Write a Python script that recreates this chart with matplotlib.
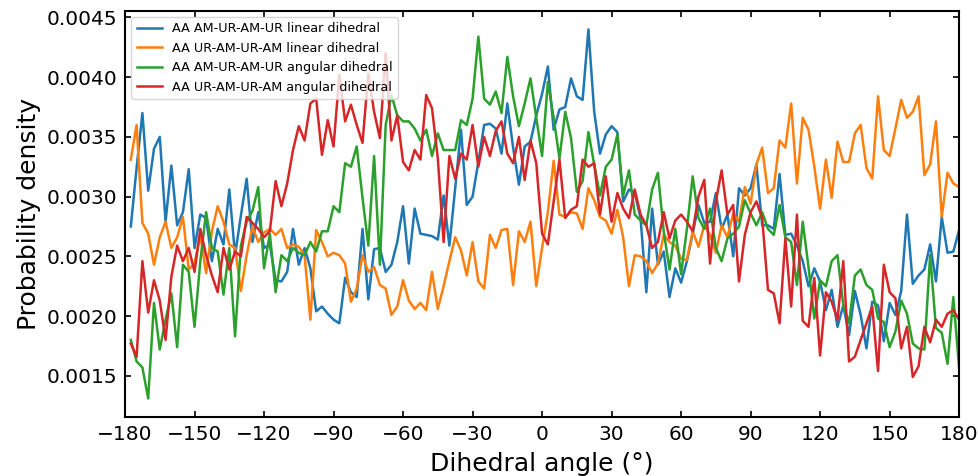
import numpy as np
import matplotlib.pyplot as plt

# bin right edges, 2.5 degree bins over the full dihedral range
angle = np.arange(-177.5, 180.1, 2.5)

# probability densities, in units of 1e-4
am_ur_linear = [
    27.5, 32.4, 37.0, 30.5, 34.0, 35.0, 27.9, 32.6, 27.6, 28.7, 32.3, 25.7,
    28.5, 28.2, 24.6, 27.3, 26.0, 30.6, 25.1, 28.4, 31.5, 26.2, 28.7, 25.7,
    26.0, 23.0, 22.9, 23.7, 27.3, 24.3, 25.7, 24.0, 20.4, 20.8, 20.2, 19.7,
    19.4, 23.2, 22.0, 21.6, 27.3, 21.4, 25.6, 25.7, 23.7, 24.3, 26.2, 29.2,
    24.4, 29.0, 26.9, 26.8, 26.7, 26.4, 30.1, 25.9, 30.7, 35.6, 29.3, 30.0,
    32.9, 36.0, 36.1, 35.7, 33.6, 37.8, 34.1, 31.0, 34.2, 34.6, 36.8, 38.6,
    40.9, 35.6, 37.3, 37.5, 39.9, 38.4, 38.1, 44.0, 37.1, 33.6, 35.2, 35.9,
    35.4, 29.6, 30.6, 30.3, 28.2, 22.0, 29.0, 24.3, 25.4, 21.6, 24.0, 22.8,
    24.6, 26.9, 29.3, 27.8, 27.9, 30.3, 27.3, 28.5, 25.0, 30.7, 30.1, 30.7,
    32.7, 27.6, 27.6, 27.3, 31.9, 26.8, 26.9, 25.9, 24.6, 22.5, 24.0, 22.9,
    20.5, 22.2, 19.1, 20.9, 18.4, 22.1, 20.1, 17.3, 21.2, 20.9, 17.9, 21.1,
    20.1, 22.1, 28.5, 22.7, 23.4, 23.9, 26.0, 22.9, 28.3, 25.3, 25.4, 27.2,
]
ur_am_linear = [
    33.1, 36.0, 27.8, 26.9, 24.3, 26.6, 27.9, 25.7, 26.6, 28.3, 23.9, 24.4,
    26.8, 23.6, 27.1, 29.2, 27.9, 26.0, 25.7, 22.1, 25.1, 27.5, 26.2, 27.0,
    27.3, 26.8, 27.3, 25.7, 26.0, 25.8, 25.1, 19.7, 27.2, 26.2, 25.0, 25.3,
    25.1, 24.4, 21.2, 22.3, 25.1, 23.7, 24.1, 22.6, 22.3, 20.1, 20.8, 23.0,
    21.3, 20.6, 21.1, 20.5, 23.7, 20.6, 22.5, 24.6, 26.6, 25.5, 23.4, 26.2,
    22.9, 22.3, 26.8, 25.7, 27.2, 27.3, 22.6, 27.1, 26.2, 27.9, 22.5, 25.7,
    28.7, 33.0, 28.5, 28.3, 28.7, 28.6, 27.3, 30.7, 29.7, 28.3, 28.0, 26.9,
    28.9, 26.6, 22.5, 25.1, 25.0, 24.6, 23.6, 24.4, 26.8, 26.2, 25.9, 24.8,
    24.7, 27.1, 25.8, 27.6, 26.8, 25.3, 27.6, 26.6, 28.6, 27.9, 30.8, 29.4,
    32.7, 34.1, 30.3, 30.7, 34.7, 34.1, 37.8, 31.1, 36.6, 35.6, 32.5, 29.0,
    33.1, 29.9, 34.6, 32.9, 32.9, 35.3, 36.0, 32.4, 31.5, 38.4, 33.9, 33.4,
    35.7, 38.1, 36.6, 37.1, 38.4, 31.8, 32.7, 36.3, 28.3, 32.0, 31.1, 30.8,
]
am_ur_angular = [
    18.0, 16.2, 15.7, 13.1, 21.1, 17.2, 19.7, 21.9, 17.4, 24.3, 23.7, 19.1,
    24.6, 28.7, 25.7, 25.4, 21.8, 25.7, 18.3, 25.9, 27.9, 28.8, 30.8, 24.0,
    26.9, 22.0, 25.1, 24.6, 25.7, 25.3, 25.1, 26.2, 25.4, 27.1, 27.1, 29.2,
    28.7, 32.8, 32.5, 34.2, 29.9, 25.9, 33.4, 24.3, 36.0, 38.5, 36.8, 36.3,
    36.3, 35.7, 34.7, 35.6, 33.4, 35.3, 33.9, 33.9, 33.9, 36.4, 36.0, 38.2,
    43.4, 38.2, 37.7, 38.8, 37.0, 41.7, 38.4, 35.9, 37.8, 39.9, 36.6, 33.4,
    39.6, 36.6, 33.2, 37.1, 34.9, 30.4, 31.3, 35.4, 32.7, 30.1, 32.5, 33.1,
    35.2, 30.1, 32.2, 28.5, 28.0, 27.6, 30.6, 32.0, 27.1, 23.9, 27.3, 23.5,
    27.3, 31.7, 28.2, 27.3, 29.0, 25.7, 24.6, 26.5, 26.9, 27.5, 29.7, 28.6,
    27.6, 28.7, 27.3, 26.8, 29.3, 26.6, 26.2, 22.6, 27.9, 24.1, 19.8, 23.0,
    22.5, 24.6, 25.1, 20.9, 19.4, 23.4, 23.9, 22.6, 22.2, 19.8, 19.5, 17.4,
    18.7, 21.3, 20.2, 17.7, 17.3, 17.2, 25.1, 19.0, 18.6, 16.0, 21.6, 15.6,
]
ur_am_angular = [
    17.7, 16.6, 24.6, 20.3, 23.0, 21.3, 18.0, 23.3, 25.9, 24.6, 25.7, 23.7,
    27.3, 25.1, 23.4, 22.0, 25.7, 23.9, 25.4, 25.0, 28.3, 27.8, 27.3, 26.6,
    27.1, 31.3, 29.2, 31.1, 33.9, 35.9, 34.7, 37.8, 38.2, 33.5, 36.4, 34.2,
    40.2, 36.3, 37.7, 36.0, 34.5, 40.3, 37.1, 34.9, 42.0, 34.7, 36.8, 32.9,
    32.2, 33.9, 33.1, 38.5, 37.4, 33.2, 26.2, 33.4, 31.5, 33.6, 33.1, 36.0,
    32.5, 35.0, 33.4, 35.5, 36.3, 33.6, 32.8, 35.0, 31.4, 34.7, 32.8, 26.9,
    26.0, 29.6, 33.1, 28.2, 28.9, 29.2, 33.1, 32.5, 32.8, 28.5, 31.7, 27.9,
    30.3, 29.0, 28.2, 30.6, 28.5, 27.6, 25.7, 26.2, 28.7, 26.5, 28.0, 28.5,
    27.9, 27.1, 30.0, 31.4, 24.4, 29.6, 32.2, 28.5, 29.3, 22.9, 26.8, 28.7,
    29.6, 28.2, 22.2, 21.9, 19.4, 26.5, 20.8, 28.5, 19.6, 19.1, 23.2, 16.7,
    22.0, 21.2, 19.7, 24.6, 16.2, 16.6, 18.0, 19.4, 20.8, 15.4, 24.3, 22.0,
    21.5, 17.3, 19.1, 14.9, 15.8, 19.1, 17.8, 19.7, 19.1, 20.2, 20.5, 19.7,
]

series = [
    ("AA AM-UR-AM-UR linear dihedral", am_ur_linear),
    ("AA UR-AM-UR-AM linear dihedral", ur_am_linear),
    ("AA AM-UR-AM-UR angular dihedral", am_ur_angular),
    ("AA UR-AM-UR-AM angular dihedral", ur_am_angular),
]

fig = plt.figure(figsize=(9.79, 4.76), dpi=100)
ax = fig.add_axes([0.1277, 0.124, 0.852, 0.853])

for label, vals in series:
    ax.plot(angle, np.array(vals) * 1e-4, lw=1.8, label=label)

ax.set_xlim(-180, 180)
ax.set_xticks(np.arange(-180, 181, 30))
ax.set_xlabel("Dihedral angle (°)", fontsize=18, labelpad=6)
ax.set_ylabel("Probability density", fontsize=18)
ax.tick_params(direction="in", top=True, right=True, labelsize=14.5,
               width=1.2, length=4.5, pad=5.5)
for sp in ax.spines.values():
    sp.set_linewidth(1.5)

ax.legend(loc="upper left", fontsize=9.2)

fig.savefig("out.png", dpi=100)
